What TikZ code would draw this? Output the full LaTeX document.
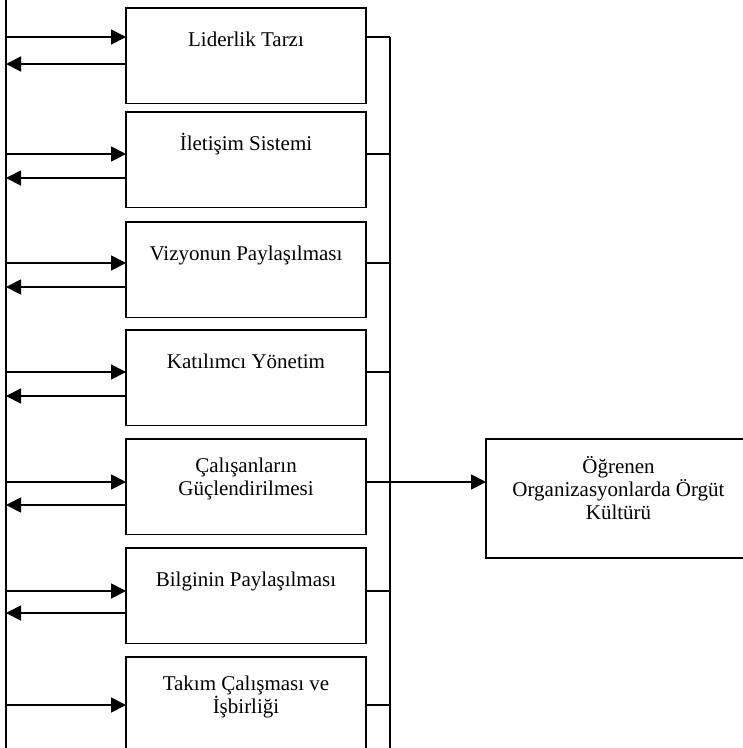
\documentclass[tikz,border=0pt]{standalone}
\usepackage{fontspec}
\setmainfont{Liberation Serif}
\usetikzlibrary{arrows.meta}
\begin{document}
\begin{tikzpicture}[x=1pt,y=-1pt,line width=1.8pt,
                factor/.style={draw,minimum width=240,minimum height=95.5,inner sep=0pt,outer sep=0pt},
                boxtext/.style={align=center,inner sep=0pt,font=\fontsize{21}{23}\selectfont,
                                execute at begin node={\rule{0pt}{20pt}}},
                arr/.style={-{Triangle[length=15pt,width=15pt]}}]
                \useasboundingbox (0,0) rectangle (743,748);
                \coordinate (ltop) at (6,-5);
                \coordinate (lbot) at (6,760);
                \coordinate (rtop) at (390,37);
                \coordinate (rbot) at (390,760);
                \draw (ltop) -- (lbot);
                \draw (rtop) -- (rbot);
                \foreach \i/\t/\a/\b/\txt in {1/8/29/56/{Liderlik Tarzı},
                                             2/112/42/66/{İletişim Sistemi},
                                             3/222/41/65/{Vizyonun Paylaşılması},
                                             4/330/42/66/{Katılımcı Yönetim},
                                             5/439/43/66/{Çalışanların\\Güçlendirilmesi},
                                             6/548/43/65/{Bilginin Paylaşılması},
                                             7/657/48/90/{Takım Çalışması ve\\İşbirliği}}{
                        \node[factor,anchor=north] (f\i) at (246,\t) {};
                        \node[boxtext,anchor=north] (t\i) at ([yshift=-18pt]f\i.north) {\txt};
                        \coordinate (in\i) at (6,\t+\a);
                        \coordinate (out\i) at (6,\t+\b);
                        \draw[arr] (in\i) -- (in\i -| f\i.west);
                        \draw (f\i.east |- in\i) -- (rtop |- in\i);
                    }
                \foreach \i in {1,...,6}{
                        \draw[arr] (out\i -| f\i.west) -- (out\i);
                    }
                \node[factor,minimum width=265,minimum height=119,anchor=north west] (org) at (486,439) {};
                \node[boxtext,anchor=north] (torg) at ([yshift=-17pt]org.north) {Öğrenen\\Organizasyonlarda Örgüt\\Kültürü};
                \draw[arr] (in5 -| f5.east) -- (in5 -| org.west);
            \end{tikzpicture}
\end{document}
